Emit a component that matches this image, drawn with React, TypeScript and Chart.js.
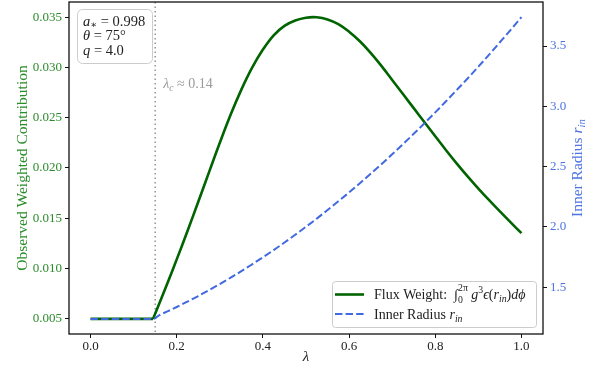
import React, { useEffect, useRef } from "react";
import { Chart, registerables } from "chart.js";

Chart.register(...registerables);

// Spin parameter grid (λ) shared by both curves
const lambdaValues = [
  0, 0.05, 0.1, 0.145, 0.16, 0.18, 0.2, 0.225, 0.25, 0.275, 0.3, 0.325, 0.35,
  0.375, 0.4, 0.425, 0.45, 0.475, 0.5, 0.525, 0.55, 0.575, 0.6, 0.625, 0.65,
  0.675, 0.7, 0.725, 0.75, 0.775, 0.8, 0.825, 0.85, 0.875, 0.9, 0.925, 0.95,
  0.975, 1.0,
];

// Observed weighted contribution (left axis)
const fluxWeight = [
  0.005, 0.005, 0.005, 0.005, 0.00658, 0.00872, 0.01092, 0.01374, 0.01664,
  0.01959, 0.02251, 0.02529, 0.02779, 0.02997, 0.03177, 0.03319, 0.03413,
  0.03466, 0.03494, 0.03498, 0.03477, 0.0343, 0.03355, 0.0326, 0.03145,
  0.03015, 0.02875, 0.02735, 0.02595, 0.02455, 0.02315, 0.02177, 0.02044,
  0.01917, 0.01796, 0.0168, 0.01568, 0.01459, 0.01352,
];

// Inner radius r_in (right axis)
const innerRadius = [
  1.237, 1.237, 1.237, 1.237, 1.269, 1.302, 1.336, 1.381, 1.427, 1.476, 1.526,
  1.579, 1.633, 1.69, 1.748, 1.808, 1.871, 1.935, 2.001, 2.069, 2.14, 2.212,
  2.286, 2.362, 2.44, 2.52, 2.602, 2.686, 2.772, 2.86, 2.95, 3.042, 3.136,
  3.231, 3.329, 3.429, 3.531, 3.634, 3.74,
];

// index where the plunge regime ends and both curves start to rise
const kinkIndex = 3;

const xTicks = [0, 0.2, 0.4, 0.6, 0.8, 1.0];
const leftTicks = [0.005, 0.01, 0.015, 0.02, 0.025, 0.03, 0.035];
const rightTicks = [1.5, 2.0, 2.5, 3.0, 3.5];
const lambdaCrit = 0.15;

const FONT = '"Liberation Serif", "DejaVu Serif", serif';
const GREEN_LINE = "#006400";
const GREEN_TEXT = "#2a8c2a";
const BLUE_LINE = "#4169e1";
const BLUE_TEXT = "#4f74e3";
const INK = "#222222";

type Seg = { t: string; it?: boolean; dy?: number; small?: boolean; stack?: boolean };

function segFont(seg: Seg, size: number) {
  const s = seg.small ? size * 0.7 : size;
  return `${seg.it ? "italic " : ""}${s}px ${FONT}`;
}

function richLayout(ctx: CanvasRenderingContext2D, segs: Seg[], size: number) {
  const out: { seg: Seg; x: number }[] = [];
  let cx = 0;
  let lastX = 0;
  let lastW = 0;
  for (const seg of segs) {
    ctx.font = segFont(seg, size);
    const w = ctx.measureText(seg.t).width;
    if (seg.stack) {
      out.push({ seg, x: lastX });
      cx = lastX + Math.max(lastW, w);
    } else {
      out.push({ seg, x: cx });
      lastX = cx;
      lastW = w;
      cx += w;
    }
  }
  return { items: out, width: cx };
}

function drawRich(
  ctx: CanvasRenderingContext2D,
  segs: Seg[],
  x: number,
  y: number,
  size: number,
  color: string,
  align: "left" | "center" = "left"
) {
  const { items, width } = richLayout(ctx, segs, size);
  const x0 = align === "center" ? x - width / 2 : x;
  ctx.fillStyle = color;
  ctx.textAlign = "left";
  ctx.textBaseline = "alphabetic";
  for (const { seg, x: sx } of items) {
    ctx.font = segFont(seg, size);
    ctx.fillText(seg.t, x0 + sx, y + (seg.dy || 0) * size);
  }
}

function roundRect(ctx: CanvasRenderingContext2D, x: number, y: number, w: number, h: number, r: number) {
  ctx.beginPath();
  ctx.moveTo(x + r, y);
  ctx.lineTo(x + w - r, y);
  ctx.arcTo(x + w, y, x + w, y + r, r);
  ctx.lineTo(x + w, y + h - r);
  ctx.arcTo(x + w, y + h, x + w - r, y + h, r);
  ctx.lineTo(x + r, y + h);
  ctx.arcTo(x, y + h, x, y + h - r, r);
  ctx.lineTo(x, y + r);
  ctx.arcTo(x, y, x + r, y, r);
  ctx.closePath();
}

const fluxLabel: Seg[] = [
  { t: "Flux Weight:  " },
  { t: "∫" },
  { t: "0", small: true, dy: 0.3 },
  { t: "2π", small: true, dy: -0.55, stack: true },
  { t: " " },
  { t: "g", it: true },
  { t: "3", small: true, dy: -0.4 },
  { t: "ϵ", it: true },
  { t: "(" },
  { t: "r", it: true },
  { t: "in", it: true, small: true, dy: 0.22 },
  { t: ")" },
  { t: "d", it: true },
  { t: "ϕ", it: true },
];

const radiusLabel: Seg[] = [
  { t: "Inner Radius " },
  { t: "r", it: true },
  { t: "in", it: true, small: true, dy: 0.22 },
];

const decorations = {
  id: "decorations",
  beforeDatasetsDraw(chart: any) {
    const { ctx, chartArea, scales } = chart;
    const xc = scales.x.getPixelForValue(lambdaCrit);
    ctx.save();
    ctx.strokeStyle = "rgba(128,128,128,0.85)";
    ctx.lineWidth = 1.5;
    ctx.setLineDash([1.5, 3]);
    ctx.beginPath();
    ctx.moveTo(xc, chartArea.top);
    ctx.lineTo(xc, chartArea.bottom);
    ctx.stroke();
    ctx.restore();
  },
  afterDatasetsDraw(chart: any) {
    const { ctx, chartArea, scales } = chart;
    const { left, right, top, bottom } = chartArea;
    ctx.save();

    // critical λ label
    const xc = scales.x.getPixelForValue(lambdaCrit);
    drawRich(
      ctx,
      [
        { t: "λ", it: true },
        { t: "c", it: true, small: true, dy: 0.22 },
        { t: " ≈ 0.14" },
      ],
      xc + 8,
      88,
      14,
      "#9a9a9a"
    );

    // parameter box
    ctx.lineWidth = 1;
    ctx.strokeStyle = "#cccccc";
    ctx.fillStyle = "rgba(255,255,255,0.9)";
    roundRect(ctx, 77.5, 9.5, 75, 54, 5);
    ctx.fill();
    ctx.stroke();
    drawRich(ctx, [{ t: "a", it: true }, { t: "∗", small: true, dy: 0.2 }, { t: " = 0.998" }], 83, 25.5, 14.5, INK);
    drawRich(ctx, [{ t: "θ", it: true }, { t: " = 75°" }], 83, 40, 14.5, INK);
    drawRich(ctx, [{ t: "q", it: true }, { t: " = 4.0" }], 83, 55, 14.5, INK);

    // legend
    ctx.strokeStyle = "#cccccc";
    ctx.fillStyle = "rgba(255,255,255,0.85)";
    roundRect(ctx, 332.5, 281.5, 204, 46, 3);
    ctx.fill();
    ctx.stroke();
    ctx.lineWidth = 2.6;
    ctx.strokeStyle = GREEN_LINE;
    ctx.beginPath();
    ctx.moveTo(335, 294.5);
    ctx.lineTo(364, 294.5);
    ctx.stroke();
    ctx.lineWidth = 2;
    ctx.strokeStyle = BLUE_LINE;
    ctx.setLineDash([7.4, 3.2]);
    ctx.beginPath();
    ctx.moveTo(335, 314);
    ctx.lineTo(364, 314);
    ctx.stroke();
    ctx.setLineDash([]);
    drawRich(ctx, fluxLabel, 374, 299, 14, INK);
    drawRich(ctx, radiusLabel, 374, 318.5, 14, INK);

    // frame
    ctx.strokeStyle = "#111111";
    ctx.lineWidth = 1.3;
    ctx.strokeRect(left, top, right - left, bottom - top);

    // axis titles
    ctx.save();
    ctx.translate(22, (top + bottom) / 2);
    ctx.rotate(-Math.PI / 2);
    drawRich(ctx, [{ t: "Observed Weighted Contribution" }], 0, 5, 15.5, GREEN_TEXT, "center");
    ctx.restore();

    ctx.save();
    ctx.translate(577, (top + bottom) / 2);
    ctx.rotate(-Math.PI / 2);
    drawRich(ctx, radiusLabel, 0, 5, 15.5, BLUE_TEXT, "center");
    ctx.restore();

    drawRich(ctx, [{ t: "λ", it: true }], (left + right) / 2, 361, 15, INK, "center");

    ctx.restore();
  },
};

const tickGrid = {
  display: true,
  drawOnChartArea: false,
  drawTicks: true,
  tickLength: 4,
  tickColor: "#111111",
  tickWidth: 1,
};

const points = (ys: number[], from: number, to: number) =>
  lambdaValues.slice(from, to).map((x, i) => ({ x, y: ys[from + i] }));

export default function App() {
  const canvasRef = useRef<HTMLCanvasElement | null>(null);

  useEffect(() => {
    const canvas = canvasRef.current;
    if (!canvas) return;
    const n = lambdaValues.length;
    const green = { borderColor: GREEN_LINE, borderWidth: 2.6, pointRadius: 0, yAxisID: "y", order: 2 };
    const blue = {
      borderColor: BLUE_LINE,
      borderWidth: 2,
      borderDash: [7.4, 3.2],
      pointRadius: 0,
      yAxisID: "y2",
      order: 1,
    };
    const chart = new Chart(canvas, {
      type: "line",
      data: {
        datasets: [
          { label: "Flux Weight (plunge)", data: points(fluxWeight, 0, kinkIndex + 1), tension: 0, ...green },
          { label: "Flux Weight", data: points(fluxWeight, kinkIndex, n), tension: 0.4, ...green },
          {
            label: "Inner Radius",
            data: points(innerRadius, 0, n),
            cubicInterpolationMode: "monotone",
            ...blue,
          },
        ],
      },
      options: {
        responsive: false,
        animation: false,
        events: [],
        layout: { padding: { top: 2, left: 0, right: 0, bottom: 0 } },
        plugins: { legend: { display: false }, tooltip: { enabled: false } },
        scales: {
          x: {
            type: "linear",
            min: -0.05,
            max: 1.05,
            grid: tickGrid,
            border: { display: false },
            afterBuildTicks: (s: any) => {
              s.ticks = xTicks.map((v) => ({ value: v }));
            },
            afterFit: (s: any) => {
              s.height = 40;
              s.paddingLeft = 0;
              s.paddingRight = 0;
            },
            ticks: {
              autoSkip: false,
              maxRotation: 0,
              padding: 1,
              color: INK,
              font: { family: FONT, size: 13 },
              callback: (v: any) => Number(v).toFixed(1),
            },
          },
          y: {
            type: "linear",
            position: "left",
            min: 0.0035,
            max: 0.0365,
            grid: tickGrid,
            border: { display: false },
            afterBuildTicks: (s: any) => {
              s.ticks = leftTicks.map((v) => ({ value: v }));
            },
            afterFit: (s: any) => {
              s.width = 69;
              s.paddingTop = 0;
              s.paddingBottom = 0;
            },
            ticks: {
              autoSkip: false,
              padding: 3,
              color: GREEN_TEXT,
              font: { family: FONT, size: 13 },
              callback: (v: any) => Number(v).toFixed(3),
            },
          },
          y2: {
            type: "linear",
            position: "right",
            min: 1.112,
            max: 3.865,
            grid: tickGrid,
            border: { display: false },
            afterBuildTicks: (s: any) => {
              s.ticks = rightTicks.map((v) => ({ value: v }));
            },
            afterFit: (s: any) => {
              s.width = 55;
              s.paddingTop = 0;
              s.paddingBottom = 0;
            },
            ticks: {
              autoSkip: false,
              padding: 3,
              color: BLUE_TEXT,
              font: { family: FONT, size: 13 },
              callback: (v: any) => Number(v).toFixed(1),
            },
          },
        },
      },
      plugins: [decorations],
    } as any);
    return () => chart.destroy();
  }, []);

  return (
    <div style={{ position: "absolute", left: 0, top: 0, width: 598, height: 374, background: "#fff" }}>
      <canvas ref={canvasRef} width={598} height={374} style={{ display: "block" }} />
    </div>
  );
}
